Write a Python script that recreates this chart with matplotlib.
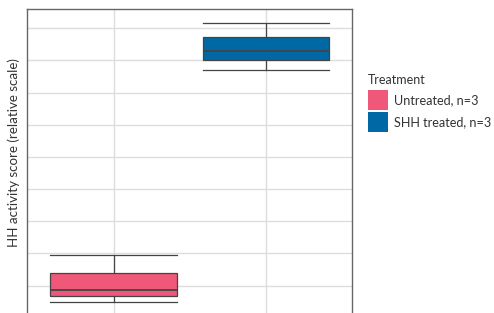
import matplotlib
matplotlib.use("Agg")
import matplotlib.pyplot as plt
from matplotlib.patches import Rectangle

plt.rcParams['font.family'] = ['Lato', 'DejaVu Sans']

groups = ["Untreated, n=3", "SHH treated, n=3"]
untreated = [0.49, 0.86, 1.95]
shh_treated = [7.71, 8.30, 9.17]
colors = ["#EF5878", "#0068A4"]
legend_title = "Treatment"
ylabel = "HH activity score (relative scale)"
yticks = [1, 2, 3, 4, 5, 6, 7, 8, 9]

W, H = 494, 313
fig = plt.figure(figsize=(W/100, H/100), dpi=100)
ax = fig.add_axes([27/W, 0.0, (351.5-27)/W, (H-9)/H])

edge = "#444444"
bp = ax.boxplot([untreated, shh_treated], positions=[1, 2], widths=0.835,
                whis=(0, 100), patch_artist=True, showfliers=False,
                capwidths=0.835, zorder=3,
                medianprops=dict(color=edge, linewidth=1.3),
                whiskerprops=dict(color=edge, linewidth=0.9),
                capprops=dict(color=edge, linewidth=0.9),
                boxprops=dict(edgecolor=edge, linewidth=0.9))
for patch, c in zip(bp['boxes'], colors):
    patch.set_facecolor(c)

ax.set_xlim(0.428, 2.5625)
ax.set_ylim(0.15, 9.6)
ax.set_yticks(yticks)
ax.set_xticks([1, 2])
ax.tick_params(length=0, labelleft=False, labelbottom=False)
ax.grid(True, color="#dddddd", linewidth=1.0, zorder=0)
ax.set_axisbelow(True)
for s in ['left', 'right', 'top']:
    ax.spines[s].set_color("#666666")
    ax.spines[s].set_linewidth(1.0)
ax.spines['bottom'].set_visible(False)

txtc = "#333333"
fig.text(14/W, 1 - 152.5/H, ylabel, rotation=90, va='center', ha='center',
         fontsize=9.6, color=txtc)

# legend (drawn manually for exact key sizes)
fig.text(368/W, 1 - 80.5/H, legend_title, ha='left', va='center',
         fontsize=9, color=txtc)
key_tops = [89.7, 112.0]
for top, c, lab in zip(key_tops, colors, groups):
    fig.add_artist(Rectangle((368/W, 1 - (top + 20)/H), 20/W, 20/H,
                             transform=fig.transFigure, facecolor=c,
                             edgecolor='none'))
    fig.text(393.5/W, 1 - (top + 10)/H, lab, ha='left', va='center',
             fontsize=9.1, color=txtc)

fig.savefig("out.png", dpi=100)
